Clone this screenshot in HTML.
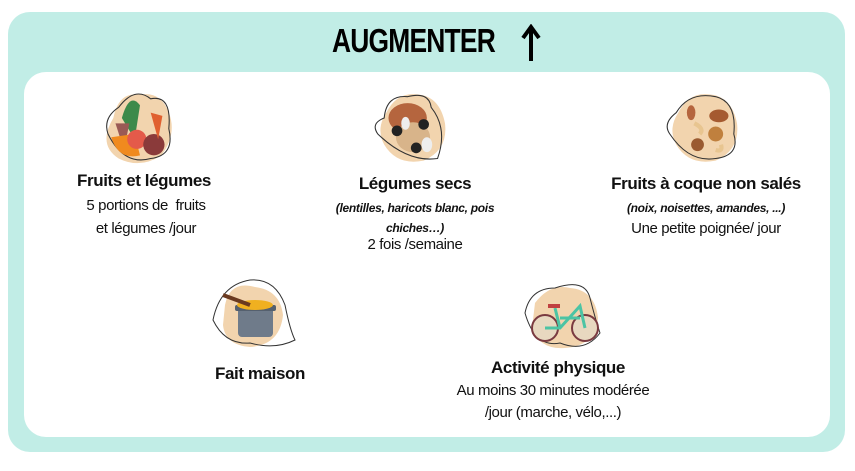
<!DOCTYPE html>
<html><head><meta charset="utf-8"><style>
body{margin:0;width:855px;height:471px;background:#fff;position:relative;overflow:hidden;font-family:"Liberation Sans",sans-serif;}
.outer{position:absolute;left:8px;top:12px;width:837px;height:440px;background:#c1ede6;border-radius:22px;}
.inner{position:absolute;left:24px;top:72px;width:806px;height:365px;background:#fff;border-radius:22px;}
.t{position:absolute;transform:translateX(-50%);white-space:nowrap;text-align:center;color:#111;letter-spacing:-0.4px;}
.b{font-weight:bold;font-size:17px;}
.n{font-size:15px;}
.i{font-size:12px;font-style:italic;font-weight:bold;letter-spacing:-0.3px;}
.ic{position:absolute;}
h1{position:absolute;left:0;width:855px;top:22px;margin:0;text-align:center;font-size:33px;font-weight:bold;letter-spacing:-1px;transform:scaleX(0.8);}
</style></head><body>
<div class="outer"></div><div class="inner"></div>
<h1 style="left:-14px">AUGMENTER</h1>
<svg class="ic" style="left:520px;top:24px" width="22" height="38" viewBox="0 0 22 38">
<path d="M11 4 L11 37" stroke="#000" stroke-width="4"/><path d="M3 14 L11 3 L19 14" stroke="#000" stroke-width="4" fill="none" stroke-linejoin="miter"/></svg>

<svg class="ic" style="left:92px;top:86px" width="96" height="80" viewBox="0 0 90 75">
<path d="M20 30 Q25 5 45 8 Q65 5 72 25 Q80 45 65 65 Q45 78 25 68 Q5 55 20 30Z" fill="#f2d4ae"/>
<path d="M15 45 Q10 30 25 20 Q40 0 55 12 Q75 8 72 40 Q78 65 55 68 Q30 75 15 45Z" fill="none" stroke="#333" stroke-width="1"/>
<path d="M28 30 Q35 5 45 18 L40 50Z" fill="#3d8a4a"/><path d="M22 35 L35 35 L30 60Z" fill="#9a5a55"/>
<path d="M18 48 Q25 70 45 65 L40 45Z" fill="#f08a1e"/><circle cx="42" cy="50" r="9" fill="#e45a4a"/>
<circle cx="58" cy="55" r="10" fill="#8a3a3a"/><path d="M55 25 L62 50 L66 28Z" fill="#e06030"/></svg>

<svg class="ic" style="left:365px;top:86px" width="96" height="80" viewBox="0 0 90 75">
<path d="M20 25 Q30 5 50 8 Q70 10 75 35 Q78 60 55 70 Q30 75 18 55 Q10 40 20 25Z" fill="#f2d4ae"/>
<path d="M12 45 Q5 35 18 30 Q20 8 40 10 Q60 5 62 20 Q78 40 68 68 Q40 72 12 45Z" fill="none" stroke="#333" stroke-width="1"/>
<ellipse cx="40" cy="30" rx="18" ry="14" fill="#b5653e"/><ellipse cx="45" cy="48" rx="16" ry="14" fill="#d8b48a"/>
<circle cx="30" cy="42" r="5" fill="#222"/><circle cx="55" cy="36" r="5" fill="#222"/><circle cx="48" cy="58" r="5" fill="#222"/>
<ellipse cx="58" cy="55" rx="5" ry="7" fill="#eee"/><ellipse cx="38" cy="35" rx="4" ry="6" fill="#eee"/></svg>

<svg class="ic" style="left:657px;top:86px" width="96" height="80" viewBox="0 0 90 75">
<path d="M20 25 Q30 5 50 8 Q70 10 75 35 Q78 60 55 70 Q30 75 18 55 Q10 40 20 25Z" fill="#f2d4ae"/>
<path d="M12 45 Q5 35 18 25 Q30 5 55 10 Q75 15 72 45 Q78 65 55 68 Q30 72 12 45Z" fill="none" stroke="#333" stroke-width="1"/>
<ellipse cx="32" cy="25" rx="4" ry="7" fill="#b5653e"/><ellipse cx="58" cy="28" rx="9" ry="6" fill="#a55a30"/>
<circle cx="55" cy="45" r="7" fill="#c0803e"/><circle cx="38" cy="55" r="6" fill="#9a5a30"/>
<path d="M35 35 Q45 40 40 45" stroke="#e8c590" stroke-width="4" fill="none"/><path d="M55 60 Q62 62 60 55" stroke="#e8c590" stroke-width="4" fill="none"/></svg>

<svg class="ic" style="left:205px;top:275px" width="95" height="75" viewBox="0 0 95 75">
<path d="M20 30 Q25 5 50 12 Q75 15 78 40 Q75 70 45 72 Q20 70 18 50Z" fill="#f2d4ae"/>
<path d="M8 45 Q15 10 45 5 Q70 3 80 30 Q85 55 90 65 Q70 75 45 68 Q20 70 8 45Z" fill="none" stroke="#333" stroke-width="1"/>
<rect x="33" y="32" width="35" height="30" rx="4" fill="#6f7b8a"/><rect x="30" y="30" width="41" height="6" rx="2" fill="#55606e"/>
<ellipse cx="50" cy="30" rx="18" ry="5" fill="#f0b020"/><path d="M18 20 L45 30" stroke="#6a3a20" stroke-width="4"/></svg>

<svg class="ic" style="left:510px;top:278px" width="100" height="75" viewBox="0 0 100 75">
<path d="M25 25 Q40 5 60 10 Q85 12 88 40 Q85 68 55 70 Q30 72 22 50Z" fill="#f2d4ae"/>
<path d="M15 35 Q20 10 45 10 Q75 0 80 20 Q85 40 90 55 Q75 75 50 65 Q25 70 15 35Z" fill="none" stroke="#333" stroke-width="1"/>
<circle cx="35" cy="50" r="13" fill="#e8d8c0" stroke="#7a3a40" stroke-width="2"/>
<circle cx="75" cy="50" r="13" fill="#e8d8c0" stroke="#7a3a40" stroke-width="2"/>
<path d="M35 50 L50 50 L70 28 L75 50 M45 30 L50 50 M50 40 L70 40" stroke="#4cc4a4" stroke-width="3" fill="none"/>
<rect x="38" y="26" width="12" height="4" fill="#c04040"/></svg>

<div class="t b" style="left:144px;top:171px">Fruits et légumes</div>
<div class="t n" style="left:146px;top:197px">5 portions de&nbsp; fruits</div>
<div class="t n" style="left:146px;top:220px">et légumes /jour</div>

<div class="t b" style="left:415px;top:174px">Légumes secs</div>
<div class="t i" style="left:415px;top:201px">(lentilles, haricots blanc, pois</div>
<div class="t i" style="left:415px;top:221px">chiches…)</div>
<div class="t n" style="left:415px;top:236px">2 fois /semaine</div>

<div class="t b" style="left:706px;top:174px">Fruits à coque non salés</div>
<div class="t i" style="left:706px;top:201px">(noix, noisettes, amandes, ...)</div>
<div class="t n" style="left:706px;top:220px">Une petite poignée/ jour</div>

<div class="t b" style="left:260px;top:364px">Fait maison</div>

<div class="t b" style="left:558px;top:358px">Activité physique</div>
<div class="t n" style="left:553px;top:382px">Au moins 30 minutes modérée</div>
<div class="t n" style="left:553px;top:404px">/jour (marche, vélo,...)</div>
</body></html>
